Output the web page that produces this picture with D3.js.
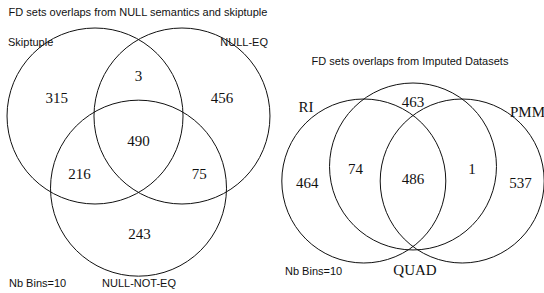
<!DOCTYPE html>
<meta charset="utf-8">
<script src="https://cdn.jsdelivr.net/npm/d3@7"></script>
<style>
  body { margin: 0; background: #fff; }
  .title, .note, .sans { font-family: "Liberation Sans", Arial, sans-serif; font-size: 11px; fill: #111; }
  .num, .serif { font-family: "Liberation Serif", "Times New Roman", serif; fill: #111; }
  circle { fill: none; stroke: #111; stroke-width: 1; }
</style>
<div id="chart"></div>
<script>
// left diagram data
var leftTitle = "FD sets overlaps from NULL semantics and skiptuple";
var leftSets = ["Skiptuple", "NULL-EQ", "NULL-NOT-EQ"];
var leftRegions = ["A", "B", "AB", "ABC", "AC", "BC", "C"];
var leftCounts = [315, 456, 3, 490, 216, 75, 243];

// right diagram data
var rightTitle = "FD sets overlaps from Imputed Datasets";
var rightSets = ["RI", "QUAD", "PMM"];
var rightRegions = ["A", "AB", "B", "ABC", "BC", "C", "AC"];
var rightCounts = [464, 74, 463, 486, 1, 537, 0];
var binsNote = "Nb Bins=10";

var width = 544, height = 293;

var svg = d3.select("#chart").append("svg")
  .attr("width", width)
  .attr("height", height);

// layout in radius units (circle centres and where region numbers sit)
var leftLayout = {
  circles: [{x: -0.494, y: 0, r: 1}, {x: 0.494, y: 0, r: 1}, {x: 0, y: 0.82, r: 1}],
  spots: {A: [-0.93, -0.2], B: [0.95, -0.2], AB: [0, -0.45], ABC: [0, 0.28],
          AC: [-0.67, 0.66], BC: [0.69, 0.66], C: [0.01, 1.34]}
};
var rightLayout = {
  circles: [{x: -0.6, y: 0, r: 1}, {x: 0, y: -0.177, r: 1.018}, {x: 0.6, y: 0, r: 1}],
  spots: {A: [-1.29, 0.03], AB: [-0.7, -0.15], B: [0, -0.96], ABC: [0, -0.03],
          BC: [0.72, -0.15], C: [1.31, 0.03], AC: [0, 0]}
};

function drawVenn(g, layout, cx, cy, r, regions, counts, fontSize) {
  var x = d3.scaleLinear().domain([-1, 1]).range([cx - r, cx + r]);
  var y = d3.scaleLinear().domain([-1, 1]).range([cy - r, cy + r]);

  g.selectAll("circle")
    .data(layout.circles)
    .enter()
    .append("circle")
      .attr("cx", function(d) { return x(d.x); })
      .attr("cy", function(d) { return y(d.y); })
      .attr("r", function(d) { return x(d.r) - x(0); });

  var items = regions.map(function(k, i) { return {key: k, value: counts[i]}; })
    .filter(function(d) { return d.value > 0; });

  g.selectAll("text.num")
    .data(items)
    .enter()
    .append("text")
      .attr("class", "num")
      .attr("x", function(d) { return x(layout.spots[d.key][0]); })
      .attr("y", function(d) { return y(layout.spots[d.key][1]); })
      .attr("text-anchor", "middle")
      .attr("dominant-baseline", "central")
      .style("font-size", fontSize + "px")
      .text(function(d) { return d.value; });

  return {x: x, y: y};
}

// left panel
var gl = svg.append("g");
drawVenn(gl, leftLayout, 138.5, 116, 88, leftRegions, leftCounts, 15);

gl.append("text").attr("class", "title")
  .attr("x", 138).attr("y", 16).attr("text-anchor", "middle")
  .text(leftTitle);
gl.append("text").attr("class", "sans")
  .attr("x", 8).attr("y", 46).text(leftSets[0]);
gl.append("text").attr("class", "sans")
  .attr("x", 268).attr("y", 46).attr("text-anchor", "end").text(leftSets[1]);
gl.append("text").attr("class", "sans")
  .attr("x", 139).attr("y", 287).attr("text-anchor", "middle").text(leftSets[2]);
gl.append("text").attr("class", "note")
  .attr("x", 9).attr("y", 287).text(binsNote);

// right panel
var gr = svg.append("g");
drawVenn(gr, rightLayout, 413, 181, 82, rightRegions, rightCounts, 15);

gr.append("text").attr("class", "title")
  .attr("x", 410).attr("y", 65).attr("text-anchor", "middle")
  .text(rightTitle);
gr.append("text").attr("class", "serif")
  .attr("x", 306).attr("y", 112).attr("text-anchor", "middle")
  .style("font-size", "15px").text(rightSets[0]);
gr.append("text").attr("class", "serif")
  .attr("x", 510).attr("y", 117)
  .style("font-size", "15px").text(rightSets[2]);
gr.append("text").attr("class", "serif")
  .attr("x", 415).attr("y", 275).attr("text-anchor", "middle")
  .style("font-size", "15px").text(rightSets[1]);
gr.append("text").attr("class", "note")
  .attr("x", 285).attr("y", 275).text(binsNote);
</script>
